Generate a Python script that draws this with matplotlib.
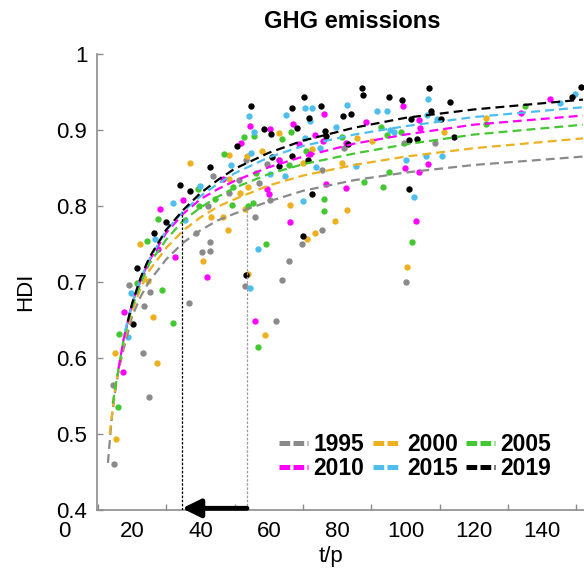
import numpy as np
import matplotlib
matplotlib.use('Agg')
import matplotlib.pyplot as plt
import matplotlib.transforms as mtransforms
from matplotlib.lines import Line2D

plt.rcParams['font.family'] = ['Liberation Sans', 'DejaVu Sans']

# ---------------- data ----------------
years = ['1995', '2000', '2005', '2010', '2015', '2019']
colors = ['#8a8a8a', '#EDB120', '#44C832', '#FF00FF', '#4DBEEE', '#000000']

# scatter points (t/p, HDI)
pts_1995_x = [43.8, 48.4, 51.4, 38.6, 42.7, 40.3, 42.9, 19.2, 23.6, 25.2, 55.9, 53.0, 53.4, 59.6, 60.4,
              75.5, 82.0, 75.5, 69.6, 99.5, 108.6, 100.2, 66.0, 63.9, 23.3, 24.9, 14.3, 14.7, 36.7, 62.0,
              42.2, 57.0]
pts_1995_y = [0.839, 0.817, 0.834, 0.765, 0.753, 0.740, 0.741, 0.696, 0.669, 0.687, 0.786, 0.695, 0.860, 0.855, 0.808,
              0.847, 0.876, 0.768, 0.750, 0.883, 0.883, 0.700, 0.727, 0.703, 0.607, 0.549, 0.564, 0.460, 0.673, 0.649,
              0.800, 0.830]

pts_2000_x = [36.8, 48.3, 58.1, 63.1, 48.3, 22.2, 48.0, 40.8, 66.2, 54.0, 51.7, 46.6, 24.7, 53.6, 53.8,
              85.9, 90.2, 81.5, 72.8, 69.9, 83.0, 79.5, 73.6, 71.1, 100.5, 111.2, 123.5, 15.0, 26.2, 27.4,
              15.2, 58.8, 53.1, 43.1]
pts_2000_y = [0.856, 0.867, 0.872, 0.896, 0.836, 0.750, 0.768, 0.727, 0.801, 0.711, 0.817, 0.785, 0.701, 0.866, 0.825,
              0.889, 0.885, 0.857, 0.875, 0.857, 0.795, 0.780, 0.764, 0.756, 0.720, 0.898, 0.916, 0.606, 0.654, 0.594,
              0.493, 0.630, 0.796, 0.785]

pts_2005_x = [52.8, 55.8, 66.5, 63.8, 47.0, 39.3, 24.4, 28.7, 59.2, 55.3, 44.2, 27.7, 49.5, 70.9, 62.9,
              65.8, 56.3, 54.0, 76.3, 76.3, 87.8, 102.0, 93.5, 95.2, 81.5, 92.8, 94.5, 98.7, 123.6, 134.9,
              32.0, 16.1, 15.9, 56.7, 21.3, 49.3, 39.7]
pts_2005_y = [0.891, 0.892, 0.898, 0.888, 0.868, 0.823, 0.754, 0.690, 0.750, 0.804, 0.809, 0.783, 0.825, 0.872, 0.861,
              0.854, 0.843, 0.800, 0.809, 0.794, 0.831, 0.752, 0.825, 0.845, 0.891, 0.904, 0.894, 0.897, 0.908, 0.932,
              0.646, 0.632, 0.535, 0.614, 0.699, 0.801, 0.800]

pts_2010_x = [54.4, 60.4, 67.2, 51.9, 35.0, 28.1, 27.7, 32.4, 41.8, 46.6, 59.5, 60.0, 66.1, 62.9, 76.1,
              73.6, 76.0, 88.4, 82.5, 68.9, 76.7, 82.7, 99.3, 104.1, 104.4, 142.4, 133.9, 99.9, 103.9, 106.6,
              103.2, 17.6, 17.4, 56.1, 72.0]
pts_2010_y = [0.905, 0.901, 0.908, 0.883, 0.808, 0.796, 0.743, 0.733, 0.706, 0.835, 0.822, 0.816, 0.779, 0.860, 0.921,
              0.894, 0.885, 0.910, 0.883, 0.882, 0.829, 0.824, 0.932, 0.913, 0.902, 0.941, 0.922, 0.850, 0.845, 0.855,
              0.780, 0.660, 0.581, 0.649, 0.869]

pts_2015_x = [54.3, 65.0, 55.8, 49.0, 39.8, 32.1, 35.4, 26.6, 19.7, 56.7, 54.5, 60.4, 64.8, 54.9, 70.7,
              72.8, 72.1, 83.0, 91.8, 94.5, 79.6, 70.6, 74.9, 73.8, 85.5, 70.1, 106.7, 106.4, 95.4, 96.6,
              109.3, 100.2, 105.9, 110.7, 102.5, 149.6, 145.4, 18.9]
pts_2015_y = [0.918, 0.920, 0.898, 0.854, 0.826, 0.804, 0.782, 0.756, 0.686, 0.743, 0.692, 0.842, 0.840, 0.870, 0.929,
              0.929, 0.912, 0.933, 0.925, 0.925, 0.904, 0.889, 0.876, 0.851, 0.852, 0.807, 0.941, 0.920, 0.900, 0.897,
              0.914, 0.860, 0.866, 0.866, 0.812, 0.947, 0.935, 0.627]

pts_2019_x = [54.7, 66.9, 58.7, 60.6, 50.7, 42.9, 34.0, 36.9, 29.9, 26.3, 21.3, 53.3, 20.1, 66.7, 63.1,
              68.3, 87.4, 87.6, 70.4, 75.2, 71.9, 81.7, 84.2, 76.5, 76.7, 83.3, 60.9, 71.5, 72.8, 70.0,
              95.2, 99.1, 106.9, 113.2, 107.4, 101.5, 110.4, 101.2, 103.4, 114.2, 101.1, 148.7, 151.3]
pts_2019_y = [0.932, 0.929, 0.901, 0.895, 0.879, 0.851, 0.828, 0.820, 0.779, 0.765, 0.718, 0.709, 0.645, 0.866, 0.853,
              0.903, 0.955, 0.946, 0.944, 0.931, 0.916, 0.918, 0.921, 0.899, 0.892, 0.882, 0.864, 0.860, 0.816, 0.761,
              0.943, 0.940, 0.955, 0.937, 0.925, 0.915, 0.915, 0.887, 0.888, 0.891, 0.823, 0.943, 0.956]

# fitted curves
fit_1995_x = [12.9, 14, 15, 16, 17.5, 20, 22.5, 25, 30, 35, 40, 45, 50, 60, 70, 85, 100, 120, 152]
fit_1995_y = [0.462, 0.52, 0.555, 0.583, 0.612, 0.655, 0.681, 0.701, 0.730, 0.752, 0.768, 0.781, 0.790, 0.806,
              0.820, 0.834, 0.844, 0.854, 0.865]
fit_2000_x = [13.4, 15, 17.5, 20, 22.5, 25, 30, 35, 40, 45, 50, 60, 70, 85, 100, 120, 152]
fit_2000_y = [0.50, 0.56, 0.62, 0.662, 0.692, 0.715, 0.745, 0.768, 0.785, 0.799, 0.809, 0.827, 0.840, 0.854,
              0.865, 0.876, 0.889]
fit_2005_x = [14.3, 15, 17.5, 20, 22.5, 25, 30, 35, 40, 45, 50, 60, 70, 85, 100, 120, 152]
fit_2005_y = [0.54, 0.56, 0.625, 0.667, 0.698, 0.724, 0.756, 0.781, 0.798, 0.812, 0.824, 0.842, 0.855, 0.869,
              0.881, 0.894, 0.907]
fit_2010_x = [16, 17.5, 20, 22.5, 25, 30, 35, 40, 45, 50, 60, 70, 85, 100, 120, 152]
fit_2010_y = [0.586, 0.625, 0.672, 0.703, 0.728, 0.765, 0.790, 0.809, 0.822, 0.833, 0.851, 0.865, 0.882, 0.894,
              0.907, 0.919]
fit_2015_x = [17.9, 20, 22.5, 25, 30, 35, 40, 45, 50, 60, 70, 85, 100, 120, 152]
fit_2015_y = [0.635, 0.672, 0.705, 0.730, 0.768, 0.793, 0.813, 0.829, 0.843, 0.864, 0.879, 0.894, 0.905, 0.917, 0.930]
fit_2019_x = [18.7, 20, 22.5, 25, 30, 35, 40, 45, 50, 60, 70, 85, 100, 120, 152]
fit_2019_y = [0.648, 0.672, 0.706, 0.732, 0.769, 0.795, 0.817, 0.834, 0.849, 0.870, 0.886, 0.903, 0.916, 0.927, 0.940]

# reference lines: same HDI reached at lower t/p
ref_x = [34.6, 53.6]
ref_top = [0.792, 0.793]
ref_colors = ['#000000', '#9a9a9a']

xtick_pos = [10, 30, 50, 70, 90, 110, 130, 150]
xtick_labels = ['0', '20', '40', '60', '80', '100', '120', '140']
ytick_pos = [0.4, 0.5, 0.6, 0.7, 0.8, 0.9, 1.0]
ytick_labels = ['0.4', '0.5', '0.6', '0.7', '0.8', '0.9', '1']

pts_x = [pts_1995_x, pts_2000_x, pts_2005_x, pts_2010_x, pts_2015_x, pts_2019_x]
pts_y = [pts_1995_y, pts_2000_y, pts_2005_y, pts_2010_y, pts_2015_y, pts_2019_y]
fit_x = [fit_1995_x, fit_2000_x, fit_2005_x, fit_2010_x, fit_2015_x, fit_2019_x]
fit_y = [fit_1995_y, fit_2000_y, fit_2005_y, fit_2010_y, fit_2015_y, fit_2019_y]

# ---------------- figure ----------------
fig = plt.figure(figsize=(5.84, 5.76), dpi=100)
ax = fig.add_axes([97 / 584, 66 / 576, 487 / 584, 456 / 576])

for px, py, c in zip(pts_x, pts_y, colors):
    ax.scatter(px, py, s=21, color=c, linewidths=0, zorder=2)

for fx, fy, c in zip(fit_x, fit_y, colors):
    ax.plot(fx, fy, color=c, lw=1.6, linestyle=(0, (4.0, 2.3)), zorder=3)

for rx, rt, rc in zip(ref_x, ref_top, ref_colors):
    ax.plot([rx, rx], [0.4, rt], color=rc, lw=0.9, linestyle=(0, (2.0, 1.3)), zorder=4)

ax.annotate('', xy=(ref_x[0], 0.4022), xytext=(ref_x[1], 0.4022),
            arrowprops=dict(arrowstyle='-|>,head_length=0.55,head_width=0.27', lw=3.5,
                            color='k', shrinkA=0, shrinkB=0, mutation_scale=20),
            annotation_clip=False, zorder=6)

ax.set_xlim(9.7, 152.3)
ax.set_ylim(0.4, 1.0)

for s in ['top', 'right']:
    ax.spines[s].set_visible(False)
for s in ['left', 'bottom']:
    ax.spines[s].set_color('#8c8c8c')
    ax.spines[s].set_linewidth(1.2)

ax.set_yticks(ytick_pos)
ax.set_yticklabels(ytick_labels)
ax.set_xticks(xtick_pos)
ax.set_xticklabels(xtick_labels)
ax.tick_params(axis='both', direction='in', length=4, width=1, color='#8c8c8c', labelsize=16)
ax.tick_params(axis='x', pad=8)
ax.tick_params(axis='y', pad=7)

offset = mtransforms.ScaledTranslation(-34.15 / 100, 0, fig.dpi_scale_trans)
for lab in ax.xaxis.get_majorticklabels():
    lab.set_transform(lab.get_transform() + offset)

ax.set_xlabel('t/p', fontsize=16)
ax.xaxis.set_label_coords(0.48, -0.114)
ax.xaxis.label.set_va('baseline')
ax.set_ylabel('HDI', fontsize=16)
ax.yaxis.set_label_coords(-0.126, 0.478)

fig.text(352 / 584, (576 - 28) / 576, 'GHG emissions', ha='center', va='baseline',
         fontsize=17, fontweight='bold')

handles = [Line2D([0], [0], color=c, lw=3.6, linestyle=(0, (2.14, 0.66))) for c in colors]
# legend is filled column by column; reorder so rows read 1995 2000 2005 / 2010 2015 2019
order = [0, 3, 1, 4, 2, 5]
ax.legend([handles[i] for i in order], [years[i] for i in order], loc='center',
          bbox_to_anchor=(415.3 / 584, (576 - 456.7) / 576),
          bbox_transform=fig.transFigure, ncol=3, frameon=False,
          handlelength=1.26, handletextpad=0.25, columnspacing=0.35, labelspacing=0.05,
          borderpad=0.0, prop={'size': 16.5, 'weight': 'bold'})

fig.savefig('out.png', dpi=100)
